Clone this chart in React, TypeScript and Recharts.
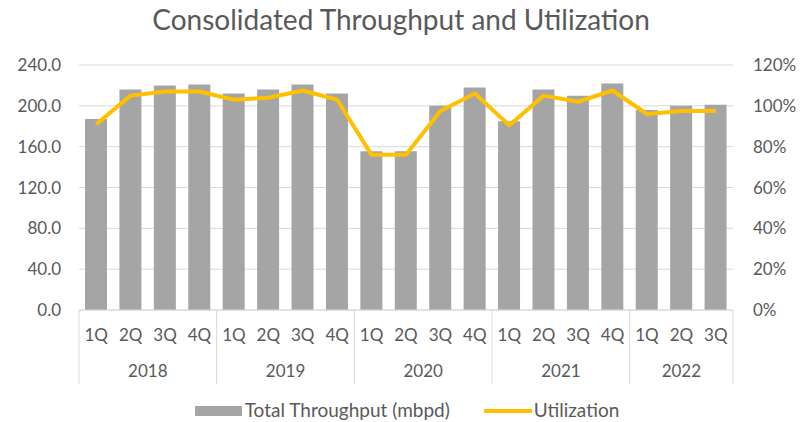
import {
  ComposedChart,
  Bar,
  Line,
  XAxis,
  YAxis,
  CartesianGrid,
  Legend,
} from "recharts";

const quarters = [
  "1Q", "2Q", "3Q", "4Q",
  "1Q", "2Q", "3Q", "4Q",
  "1Q", "2Q", "3Q", "4Q",
  "1Q", "2Q", "3Q", "4Q",
  "1Q", "2Q", "3Q",
];
const years = [
  "2018", "2018", "2018", "2018",
  "2019", "2019", "2019", "2019",
  "2020", "2020", "2020", "2020",
  "2021", "2021", "2021", "2021",
  "2022", "2022", "2022",
];
const throughput = [
  187, 216, 220, 221,
  212, 216, 221, 212,
  155.5, 155.5, 200, 218,
  185, 216, 210, 222,
  196, 200, 201,
];
const utilization = [
  91, 105, 107, 107,
  103, 104, 107.5, 103,
  76, 76, 97.5, 106,
  90.5, 105, 102, 107.5,
  96, 97.5, 97.5,
];
const leftTicks = [0, 40, 80, 120, 160, 200, 240];
const rightTicks = [0, 20, 40, 60, 80, 100, 120];

const data = quarters.map((q, i) => ({
  q,
  year: years[i],
  throughput: throughput[i],
  utilization: utilization[i],
}));

const WIDTH = 802;
const HEIGHT = 422;
const LEFT_W = 79;
const RIGHT_W = 69;
const PLOT_W = WIDTH - LEFT_W - RIGHT_W;
const BAND = PLOT_W / quarters.length;
const QUARTER_H = 41;
const YEAR_H = 35;

const TEXT = "#595959";
const GRID = "#D9D9D9";
const FONT = "Lato, 'Open Sans', sans-serif";

function YearTick(props: any) {
  const { x, y, index } = props;
  const year = years[index];
  const isFirst = index === 0 || years[index - 1] !== year;
  const isLast = index === years.length - 1;
  let size = 0;
  for (let j = index; j < years.length && years[j] === year; j++) size++;
  return (
    <g>
      {isFirst && (
        <line
          x1={x - BAND / 2}
          x2={x - BAND / 2}
          y1={y - QUARTER_H}
          y2={y + YEAR_H - 2}
          stroke={GRID}
        />
      )}
      {isLast && (
        <line
          x1={x + BAND / 2}
          x2={x + BAND / 2}
          y1={y - QUARTER_H}
          y2={y + YEAR_H - 2}
          stroke={GRID}
        />
      )}
      {isFirst && (
        <text
          x={x + ((size - 1) / 2) * BAND}
          y={y + 22}
          textAnchor="middle"
          dominantBaseline="middle"
          fill={TEXT}
          fontSize={17}
          fontFamily={FONT}
        >
          {year}
        </text>
      )}
    </g>
  );
}

function LegendContent() {
  return (
    <div
      style={{
        height: 36,
        boxSizing: "border-box",
        paddingTop: 12,
        display: "flex",
        justifyContent: "center",
        alignItems: "flex-start",
        fontFamily: FONT,
        fontSize: 19,
        lineHeight: "24px",
        color: TEXT,
        paddingLeft: 12,
      }}
    >
      <span style={{ display: "inline-block", width: 47, height: 10, marginTop: 8, background: "#A5A5A5", marginRight: 3 }} />
      <span>Total Throughput (mbpd)</span>
      <span style={{ display: "inline-block", width: 48, height: 4, marginTop: 11, background: "#FFC000", marginLeft: 34, marginRight: 2 }} />
      <span>Utilization</span>
    </div>
  );
}

export default function App() {
  return (
    <div style={{ position: "absolute", left: 0, top: 0, width: WIDTH, height: HEIGHT, background: "#fff" }}>
      <div
        style={{
          position: "absolute",
          top: 2,
          left: 0,
          width: WIDTH,
          textAlign: "center",
          fontFamily: FONT,
          fontSize: 28,
          color: TEXT,
          paddingLeft: 0,
        }}
      >
        Consolidated Throughput and Utilization
      </div>
      <ComposedChart
        width={WIDTH}
        height={HEIGHT}
        data={data}
        margin={{ top: 65, right: 0, bottom: 0, left: 0 }}
      >
        <CartesianGrid yAxisId="left" xAxisId="q" vertical={false} stroke={GRID} />
        <XAxis
          xAxisId="q"
          dataKey="q"
          height={QUARTER_H}
          interval={0}
          axisLine={{ stroke: GRID }}
          tickLine={false}
          tickSize={0}
          tickMargin={19}
          tick={{ fill: TEXT, fontSize: 17, fontFamily: FONT }}
        />
        <XAxis
          xAxisId="year"
          dataKey="year"
          height={YEAR_H}
          interval={0}
          axisLine={false}
          tickLine={false}
          tickSize={0}
          tickMargin={0}
          tick={<YearTick />}
        />
        <YAxis
          yAxisId="left"
          width={LEFT_W}
          domain={[0, 240]}
          ticks={leftTicks}
          axisLine={false}
          tickLine={false}
          tickSize={0}
          tickMargin={18}
          tickFormatter={(v: number) => v.toFixed(1)}
          tick={{ fill: TEXT, fontSize: 17, fontFamily: FONT }}
        />
        <YAxis
          yAxisId="right"
          orientation="right"
          width={RIGHT_W}
          domain={[0, 120]}
          ticks={rightTicks}
          axisLine={false}
          tickLine={false}
          tickSize={0}
          tickMargin={20}
          tickFormatter={(v: number) => `${v}%`}
          tick={{ fill: TEXT, fontSize: 17, fontFamily: FONT, textAnchor: "start" }}
        />
        <Bar
          xAxisId="q"
          yAxisId="left"
          dataKey="throughput"
          name="Total Throughput (mbpd)"
          fill="#A5A5A5"
          barSize={22}
          isAnimationActive={false}
        />
        <Line
          xAxisId="q"
          yAxisId="right"
          dataKey="utilization"
          name="Utilization"
          type="linear"
          stroke="#FFC000"
          strokeWidth={4}
          strokeLinejoin="round"
          dot={false}
          activeDot={false}
          isAnimationActive={false}
        />
        <Legend verticalAlign="bottom" content={<LegendContent />} />
      </ComposedChart>
    </div>
  );
}
